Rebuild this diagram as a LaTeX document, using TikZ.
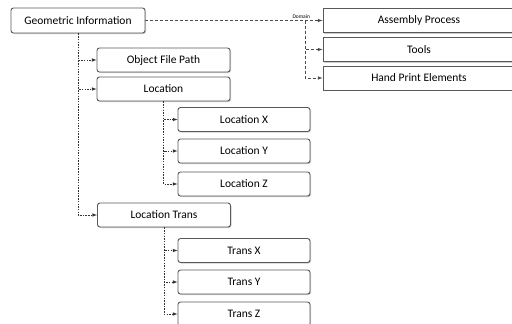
\documentclass[tikz,border=0pt]{standalone}
\usepackage{fontspec}
\setmainfont{Carlito}
\usetikzlibrary{shadows}

\begin{document}
\begin{tikzpicture}[x=1pt,y=-1pt,
        item/.style = {draw=black!65, fill=white, rounded corners=2.5pt, line width=0.9pt,
            minimum width=133pt, minimum height=24pt, inner sep=0pt, font=\fontsize{11.5}{13}\selectfont,
            drop shadow={shadow xshift=1pt, shadow yshift=-1pt, fill=black!40}},
        dom/.style = {item, rounded corners=0pt, minimum width=192pt},
        link/.style = {draw=black!80, line width=0.6pt, dash pattern=on 1.5pt off 1.2pt, -latex},
        dlink/.style = {draw=black!70, line width=0.6pt, dash pattern=on 3pt off 2pt, -latex},]
        \useasboundingbox (0,0) rectangle (512,324);

        \node[item, minimum width=134pt, minimum height=25pt] (geo) at (78,20.5) {Geometric Information};

        \node[item] (ofp) at (163.5,60) {Object File Path};
        \node[item] (loc) at (163.5,89) {Location};
        \node[item] (loct) at (164,215) {Location Trans};

        \node[item, minimum width=132pt] (locx) at (244,119.5) {Location X};
        \node[item, minimum width=132pt] (locy) at (244,151) {Location Y};
        \node[item, minimum width=132pt] (locz) at (244,184) {Location Z};

        \node[item, minimum width=132pt] (trx) at (244,250.5) {Trans X};
        \node[item, minimum width=132pt] (try) at (244,282) {Trans Y};
        \node[item, minimum width=132pt] (trz) at (244,314) {Trans Z};

        \node[dom] (asm) at (419,20.5) {Assembly Process};
        \node[dom] (tools) at (419,49.5) {Tools};
        \node[dom] (hand) at (419,78) {Hand Print Elements};

        \draw[link] (geo.south) |- (ofp.west);
        \draw[link] (geo.south) |- (loc.west);
        \draw[link] (geo.south) |- (loct.west);

        \draw[link] (loc.south) |- (locx.west);
        \draw[link] (loc.south) |- (locy.west);
        \draw[link] (loc.south) |- (locz.west);

        \draw[link] (loct.south) |- (trx.west);
        \draw[link] (loct.south) |- (try.west);
        \draw[link] (loct.south) |- (trz.west);

        \coordinate (split) at (305,20.5);
        \draw[dlink] (geo.east) -- node[above, pos=0.88, inner sep=1.2pt, font=\fontsize{5.5}{6}\selectfont] {Domain} (asm.west);
        \draw[dlink] (split) |- (tools.west);
        \draw[dlink] (split) |- (hand.west);

\end{tikzpicture}
\end{document}
